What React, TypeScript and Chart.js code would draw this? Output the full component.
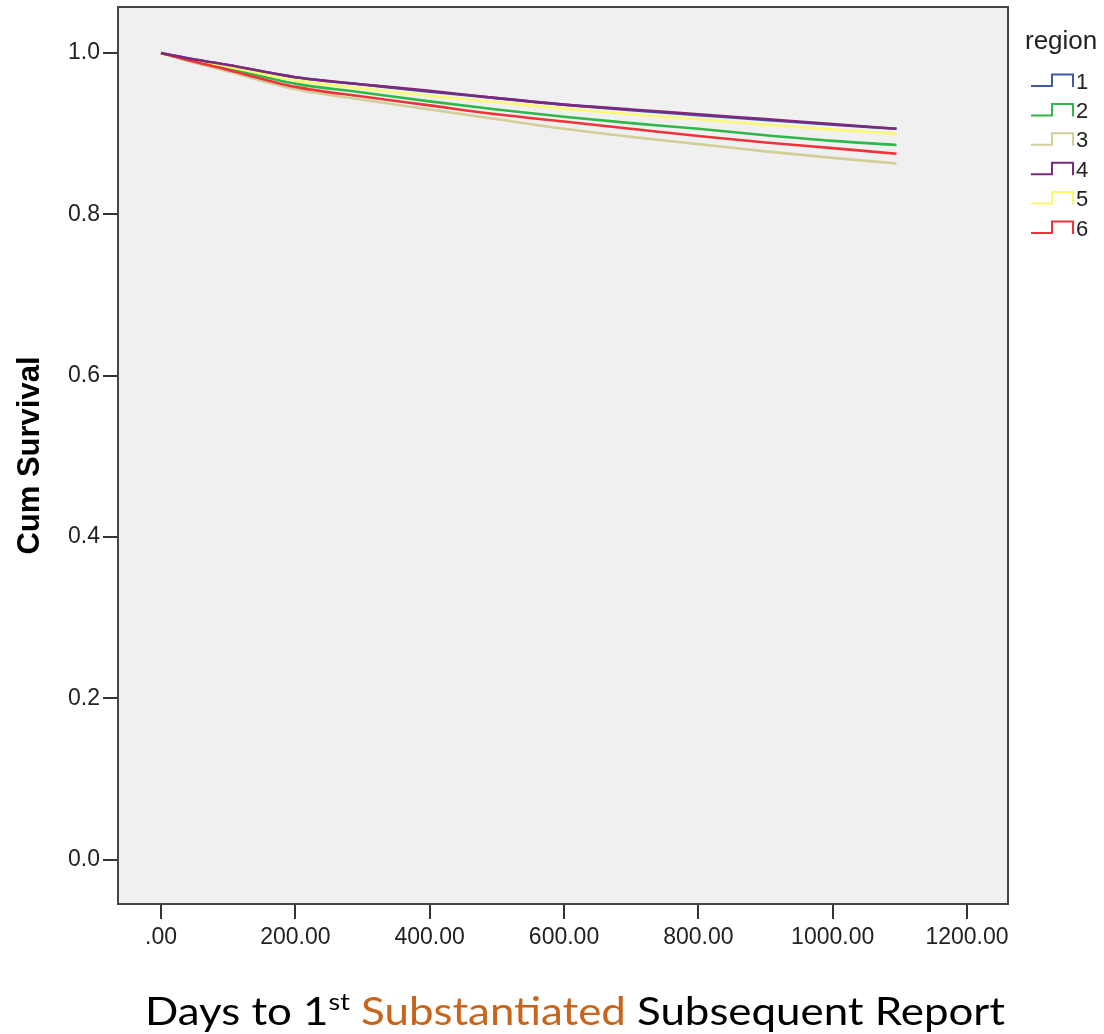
import React, { useEffect, useRef } from "react";
import { Chart, registerables } from "chart.js";

Chart.register(...registerables);

// Days to event (x values)
const days = [0, 50, 100, 200, 300, 400, 500, 600, 700, 800, 900, 1000, 1095];

// Cumulative survival per region
const region1 = [1, 0.992, 0.985, 0.970, 0.961, 0.952, 0.944, 0.936, 0.929, 0.923, 0.917, 0.911, 0.906];
const region2 = [1, 0.990, 0.981, 0.962, 0.951, 0.940, 0.930, 0.921, 0.913, 0.906, 0.898, 0.891, 0.886];
const region3 = [1, 0.988, 0.977, 0.955, 0.942, 0.930, 0.918, 0.906, 0.896, 0.887, 0.878, 0.870, 0.863];
const region4 = [1, 0.992, 0.985, 0.970, 0.961, 0.953, 0.944, 0.936, 0.930, 0.924, 0.918, 0.912, 0.906];
const region5 = [1, 0.991, 0.983, 0.966, 0.956, 0.947, 0.939, 0.931, 0.924, 0.918, 0.911, 0.905, 0.900];
const region6 = [1, 0.989, 0.979, 0.958, 0.946, 0.935, 0.924, 0.915, 0.906, 0.897, 0.889, 0.882, 0.875];

const regionLabels = ["1", "2", "3", "4", "5", "6"];
const regionSeries = [region1, region2, region3, region4, region5, region6];
const regionColors = ["#3E58AC", "#2EB848", "#D3CE97", "#7C287D", "#FBF873", "#EF3338"];
const drawOrder = [5, 3, 4, 0, 2, 1];

const xTicks = [0, 200, 400, 600, 800, 1000, 1200];
const yTicks = [0, 0.2, 0.4, 0.6, 0.8, 1.0];

const legendTitle = "region";
const yTitle = "Cum Survival";
const xTitleParts = [
  { text: "Days to 1", color: "#000000", sup: false },
  { text: "st", color: "#000000", sup: true },
  { text: " ", color: "#000000", sup: false },
  { text: "Substantiated", color: "#C8651B", sup: false },
  { text: " Subsequent Report", color: "#000000", sup: false },
];

const frameAndLegend = {
  id: "frameAndLegend",
  beforeDatasetsDraw(chart: any) {
    const { ctx, chartArea } = chart;
    ctx.save();
    ctx.fillStyle = "#F0F0F0";
    ctx.fillRect(chartArea.left, chartArea.top, chartArea.right - chartArea.left, chartArea.bottom - chartArea.top);
    ctx.restore();
  },
  afterDraw(chart: any) {
    const { ctx, chartArea } = chart;
    ctx.save();
    // frame
    ctx.strokeStyle = "#444444";
    ctx.lineWidth = 2;
    ctx.strokeRect(chartArea.left, chartArea.top, chartArea.right - chartArea.left, chartArea.bottom - chartArea.top);

    // legend
    const lx = chartArea.right + 17;
    ctx.fillStyle = "#222222";
    ctx.textBaseline = "middle";
    ctx.textAlign = "left";
    ctx.font = "26px 'Liberation Sans', Arial, sans-serif";
    ctx.fillText(legendTitle, lx, 42);
    ctx.font = "22px 'Liberation Sans', Arial, sans-serif";
    chart.data.datasets.forEach((ds: any, i: number) => {
      const yc = 80.5 + i * 29.4;
      ctx.strokeStyle = ds.borderColor;
      ctx.lineWidth = 2;
      ctx.beginPath();
      ctx.moveTo(lx + 6, yc + 5.5);
      ctx.lineTo(lx + 27, yc + 5.5);
      ctx.lineTo(lx + 27, yc - 6);
      ctx.lineTo(lx + 48, yc - 6);
      ctx.lineTo(lx + 48, yc + 6.5);
      ctx.stroke();
      ctx.fillStyle = "#222222";
      ctx.fillText(ds.label, lx + 51, yc + 2);
    });

    // x title
    const base = 1025;
    const mainFont = "39px Lato, 'Open Sans', sans-serif";
    const supFont = "24px Lato, 'Open Sans', sans-serif";
    let total = 0;
    xTitleParts.forEach((p) => {
      ctx.font = p.sup ? supFont : mainFont;
      total += ctx.measureText(p.text).width;
    });
    const targetW = 860;
    const sx = targetW / total;
    ctx.translate(145, 0);
    ctx.scale(sx, 1);
    ctx.textBaseline = "alphabetic";
    let x = 0;
    xTitleParts.forEach((p) => {
      ctx.font = p.sup ? supFont : mainFont;
      ctx.fillStyle = p.color;
      ctx.fillText(p.text, x, p.sup ? base - 15 : base);
      x += ctx.measureText(p.text).width;
    });
    ctx.restore();
  },
};

export default function App() {
  const ref = useRef<HTMLCanvasElement | null>(null);
  useEffect(() => {
    document.body.style.margin = "0";
    document.body.style.overflow = "hidden";
    if (!ref.current) return;
    const tickFont = { family: "'Liberation Sans', Arial, sans-serif", size: 23 };
    const chart = new Chart(ref.current, {
      type: "line",
      data: {
        datasets: regionSeries.map((s, i) => ({
          label: regionLabels[i],
          data: s.map((v, j) => ({ x: days[j], y: v })),
          borderColor: regionColors[i],
          backgroundColor: regionColors[i],
          borderWidth: 2.6,
          pointRadius: 0,
          fill: false,
          cubicInterpolationMode: "monotone" as const,
          order: drawOrder[i],
        })),
      },
      options: {
        animation: false,
        responsive: false,
        maintainAspectRatio: false,
        layout: { padding: { left: 0, top: 7, right: 96, bottom: 0 } },
        plugins: { legend: { display: false }, tooltip: { enabled: false } },
        scales: {
          x: {
            type: "linear",
            min: -64,
            max: 1261,
            afterBuildTicks: (scale: any) => {
              scale.ticks = xTicks.map((v) => ({ value: v }));
            },
            afterFit: (scale: any) => {
              scale.height = 130;
              scale.paddingLeft = 0;
              scale.paddingRight = 0;
            },
            border: { display: false },
            grid: { drawOnChartArea: false, drawTicks: true, tickLength: 15, color: "#333333", lineWidth: 2 },
            ticks: {
              font: tickFont,
              color: "#222222",
              padding: 5,
              maxRotation: 0,
              autoSkip: false,
              callback: (v: any) => (Number(v) === 0 ? ".00" : Number(v).toFixed(2)),
            },
          },
          y: {
            type: "linear",
            min: -0.055,
            max: 1.057,
            afterBuildTicks: (scale: any) => {
              scale.ticks = yTicks.map((v) => ({ value: v }));
            },
            afterFit: (scale: any) => {
              scale.width = 118;
              scale.paddingTop = 0;
              scale.paddingBottom = 0;
            },
            border: { display: false },
            grid: { drawOnChartArea: false, drawTicks: true, tickLength: 15, color: "#333333", lineWidth: 2 },
            title: {
              display: true,
              text: yTitle,
              color: "#000000",
              font: { family: "'Liberation Sans', Arial, sans-serif", size: 31, weight: "bold" },
              padding: { top: 12, bottom: 0 },
            },
            ticks: {
              font: tickFont,
              color: "#222222",
              padding: 3,
              autoSkip: false,
              callback: (v: any) => Number(v).toFixed(1),
            },
          },
        },
      },
      plugins: [frameAndLegend],
    });
    return () => chart.destroy();
  }, []);
  return (
    <div style={{ position: "absolute", left: 0, top: 0, width: 1104, height: 1034 }}>
      <canvas ref={ref} width={1104} height={1034} style={{ width: 1104, height: 1034, display: "block" }} />
    </div>
  );
}
